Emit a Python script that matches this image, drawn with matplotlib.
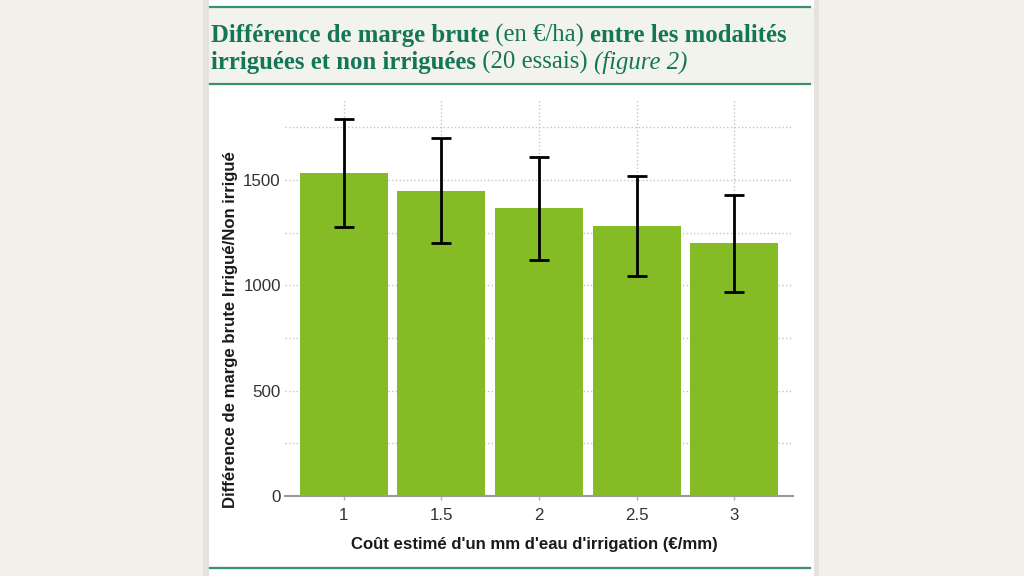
import matplotlib.pyplot as plt
from matplotlib.patches import Rectangle
from matplotlib.lines import Line2D

# Data
cost_labels = ['1', '1.5', '2', '2.5', '3']
margin_diff = [1533, 1450, 1366, 1283, 1199]
err_low = [1275, 1199, 1121, 1046, 968]
err_high = [1792, 1702, 1611, 1520, 1431]

bar_color = '#85bb25'
green = '#137656'
line_green = '#3b8f70'
text_gray = '#333333'

fig = plt.figure(figsize=(10.24, 5.76), dpi=100)
fig.patch.set_facecolor('#f1f0eb')

W, H = 1024, 576


def px(x, y):
    return x / W, 1 - y / H


# white card in the middle + title band (drawn under the axes)
def add_rect(x, y, w, h, color):
    fig.patches.append(Rectangle(px(x, y + h), w / W, h / H, transform=fig.transFigure,
                                 facecolor=color, edgecolor='none', zorder=-2))


add_rect(203, 0, 6, 576, '#e4e3de')
add_rect(814, 0, 5, 576, '#e4e3de')
add_rect(209, 0, 605, 576, 'white')
add_rect(209, 7, 605, 77, '#f3f3ed')
for yy in (7, 84, 568):
    x0, y0 = px(210, yy)
    x1, _ = px(810, yy)
    fig.lines.append(Line2D([x0, x1], [y0, y0], transform=fig.transFigure,
                            color=line_green, lw=1.6, zorder=-1))

# title, drawn in pieces (bold / regular / italic)
title_lines = [
    [('Différence de marge brute', 'bold', 'normal'),
     (' (en €/ha) ', 'normal', 'normal'),
     ('entre les modalités', 'bold', 'normal')],
    [('irriguées et non irriguées', 'bold', 'normal'),
     (' (20 essais) ', 'normal', 'normal'),
     ('(figure 2)', 'normal', 'italic')],
]
renderer = fig.canvas.get_renderer()
for i, parts in enumerate(title_lines):
    x = 211
    y = 42 + i * 27
    for txt, weight, style in parts:
        t = fig.text(x / W, 1 - y / H, txt, fontsize=17.8, fontweight=weight,
                     fontstyle=style, family='Liberation Serif', color=green,
                     va='baseline', ha='left')
        bb = t.get_window_extent(renderer=renderer)
        x += bb.width

# chart
ax = fig.add_axes([285 / W, 1 - 496 / H, (793 - 285) / W, (496 - 99) / H])
ax.set_facecolor('white')
pos = list(range(len(cost_labels)))
yerr = [[m - lo for m, lo in zip(margin_diff, err_low)],
        [hi - m for m, hi in zip(margin_diff, err_high)]]
ax.bar(pos, margin_diff, width=0.9, color=bar_color, zorder=2)
ax.errorbar(pos, margin_diff, yerr=yerr, fmt='none', ecolor='black',
            elinewidth=2, capsize=7, capthick=2, zorder=3)

ax.set_xlim(-0.6, 4.6)
ax.set_ylim(0, 1885)
ax.set_xticks(pos)
ax.set_xticklabels(cost_labels)
ax.set_yticks([0, 500, 1000, 1500])
ax.set_yticks([250, 750, 1250, 1750], minor=True)
ax.grid(True, which='both', axis='y', linestyle=':', color='#c4c4c4', lw=1, zorder=0)
ax.grid(True, which='major', axis='x', linestyle=':', color='#c4c4c4', lw=1, zorder=0)
ax.set_axisbelow(True)

for side in ('top', 'right', 'left'):
    ax.spines[side].set_visible(False)
ax.spines['bottom'].set_color('#9a9a9a')
ax.spines['bottom'].set_linewidth(1.5)
ax.tick_params(axis='both', which='major', colors='#b0b0b0', width=1,
               labelcolor=text_gray, labelsize=12.2)
ax.tick_params(axis='x', length=3, pad=6)
ax.tick_params(axis='y', length=0, pad=3)
ax.tick_params(axis='y', which='minor', length=0)
for lab in ax.get_xticklabels() + ax.get_yticklabels():
    lab.set_family('Liberation Sans')

fig.text(231 / W, 1 - 330 / H, 'Différence de marge brute Irrigué/Non irrigué',
         rotation=90, ha='center', va='center', fontsize=12.1, fontweight='bold',
         family='Liberation Sans', color='#1a1a1a')
fig.text(534 / W, 1 - 545 / H, "Coût estimé d'un mm d'eau d'irrigation (€/mm)",
         ha='center', va='center', fontsize=12.1, fontweight='bold',
         family='Liberation Sans', color='#1a1a1a')

fig.savefig('out.png', dpi=100, facecolor=fig.get_facecolor())
